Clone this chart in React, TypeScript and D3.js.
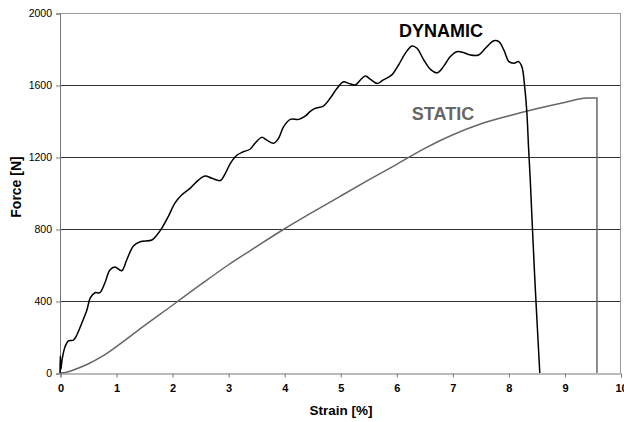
import React, { useEffect, useRef } from "react";
import * as d3 from "d3";

const xTicks = [0, 1, 2, 3, 4, 5, 6, 7, 8, 9, 10];
const yTicks = [0, 400, 800, 1200, 1600, 2000];

const dynamicStrain = [0, 0.005, 0.015, 0.04, 0.09, 0.15, 0.24, 0.3, 0.39, 0.48, 0.54, 0.625, 0.71, 0.8, 0.89, 0.98, 1.1, 1.19, 1.31, 1.43, 1.64, 1.73, 1.82, 1.93, 2.05, 2.17, 2.32, 2.47, 2.59, 2.71, 2.86, 2.95, 3.04, 3.16, 3.27, 3.39, 3.48, 3.6, 3.69, 3.81, 3.9, 3.99, 4.11, 4.26, 4.38, 4.46, 4.55, 4.7, 4.82, 4.94, 5.06, 5.15, 5.27, 5.36, 5.45, 5.54, 5.66, 5.77, 5.92, 6.04, 6.16, 6.28, 6.37, 6.49, 6.61, 6.73, 6.84, 6.96, 7.08, 7.2, 7.32, 7.47, 7.59, 7.74, 7.83, 7.92, 8.01, 8.1, 8.18, 8.24, 8.29, 8.33, 8.36, 8.39, 8.47, 8.56];
const dynamicForce = [0, 95, 20, 80, 146, 179, 183, 211, 278, 350, 417, 446, 446, 500, 572, 589, 568, 628, 706, 729, 739, 767, 806, 868, 944, 989, 1026, 1072, 1094, 1082, 1069, 1109, 1165, 1211, 1229, 1243, 1276, 1309, 1294, 1276, 1304, 1369, 1409, 1409, 1428, 1452, 1470, 1483, 1526, 1580, 1618, 1609, 1600, 1628, 1650, 1631, 1609, 1628, 1656, 1711, 1776, 1817, 1804, 1739, 1687, 1668, 1702, 1757, 1785, 1780, 1767, 1767, 1804, 1846, 1841, 1794, 1730, 1721, 1730, 1702, 1591, 1443, 1250, 1072, 530, 0];

const staticStrain = [0, 0.1, 0.25, 0.5, 0.75, 1.0, 1.5, 2.0, 2.5, 3.0, 3.5, 4.0, 4.5, 5.0, 5.5, 6.0, 6.5, 7.0, 7.5, 8.0, 8.5, 9.0, 9.4, 9.58];
const staticForce = [0, 3, 18, 50, 92, 145, 262, 375, 489, 600, 701, 800, 892, 982, 1071, 1158, 1247, 1322, 1383, 1428, 1468, 1503, 1528, 1528];
const staticBreakStrain = 9.58;

export default function App() {
  const ref = useRef<SVGSVGElement>(null);
  useEffect(() => {
    document.body.style.margin = "0";
    const svg = d3.select(ref.current);
    svg.selectAll("*").remove();
    const x = d3.scaleLinear().domain([0, 10]).range([60, 620.5]);
    const y = d3.scaleLinear().domain([0, 2000]).range([373, 13]);
    const font = "'Liberation Sans', Arial, sans-serif";

    svg.append("g").selectAll("line").data(yTicks.filter(t => t > 0 && t < 2000)).join("line")
      .attr("x1", x(0)).attr("x2", x(10)).attr("y1", d => y(d) + 0.5).attr("y2", d => y(d) + 0.5)
      .attr("stroke", "#333").attr("stroke-width", 1);
    svg.append("line").attr("x1", x(0)).attr("x2", x(10)).attr("y1", y(2000) + 0.5).attr("y2", y(2000) + 0.5)
      .attr("stroke", "#9a9a9a");
    svg.append("line").attr("x1", x(10)).attr("x2", x(10)).attr("y1", y(2000)).attr("y2", y(0))
      .attr("stroke", "#9a9a9a");

    const gy = svg.append("g").attr("transform", `translate(${x(0)},0.5)`)
      .call(d3.axisLeft(y).tickValues(yTicks).tickSize(4).tickPadding(4).tickFormat(d3.format("d")));
    gy.select(".domain").attr("stroke", "#777");
    gy.selectAll(".tick line").attr("stroke", "#777");
    gy.selectAll("text").attr("font-family", font).attr("font-size", 10.5).attr("fill", "#000");

    const gx = svg.append("g").attr("transform", `translate(0.5,${y(0) + 0.5})`)
      .call(d3.axisBottom(x).tickValues(xTicks).tickSize(4).tickPadding(7).tickFormat(d3.format("d")));
    gx.select(".domain").attr("stroke", "#777");
    gx.selectAll(".tick line").attr("stroke", "#777");
    gx.selectAll("text").attr("font-family", font).attr("font-size", 11).attr("font-weight", "bold").attr("fill", "#000");

    const dyn = dynamicStrain.map((s, i) => [s, dynamicForce[i]] as [number, number]);
    const sta = staticStrain.map((s, i) => [s, staticForce[i]] as [number, number]);
    const lineDyn = d3.line<[number, number]>().x(d => x(d[0])).y(d => y(d[1])).curve(d3.curveCatmullRom.alpha(0.5));
    const lineSta = d3.line<[number, number]>().x(d => x(d[0])).y(d => y(d[1])).curve(d3.curveMonotoneX);
    const staPath = (lineSta(sta) || "") + `L${x(staticBreakStrain)},${y(0)}`;
    svg.append("path").attr("d", staPath).attr("fill", "none").attr("stroke", "#666").attr("stroke-width", 1.5);
    svg.append("path").attr("d", lineDyn(dyn)).attr("fill", "none").attr("stroke", "#000").attr("stroke-width", 1.5);

    svg.append("text").attr("x", 441).attr("y", 37).attr("text-anchor", "middle")
      .attr("font-family", font).attr("font-size", 18).attr("font-weight", "bold").attr("fill", "#000").text("DYNAMIC");
    svg.append("text").attr("x", 443).attr("y", 120).attr("text-anchor", "middle")
      .attr("font-family", font).attr("font-size", 18).attr("font-weight", "bold").attr("fill", "#666").text("STATIC");

    svg.append("text").attr("x", 341).attr("y", 415).attr("text-anchor", "middle")
      .attr("font-family", font).attr("font-size", 13.5).attr("font-weight", "bold").attr("fill", "#000").text("Strain [%]");
    svg.append("text").attr("transform", "translate(21,187) rotate(-90)").attr("text-anchor", "middle")
      .attr("font-family", font).attr("font-size", 14).attr("font-weight", "bold").attr("fill", "#000").text("Force [N]");
  }, []);
  return <svg ref={ref} width={624} height={422} style={{ position: "absolute", left: 0, top: 0, background: "#fff" }} />;
}
